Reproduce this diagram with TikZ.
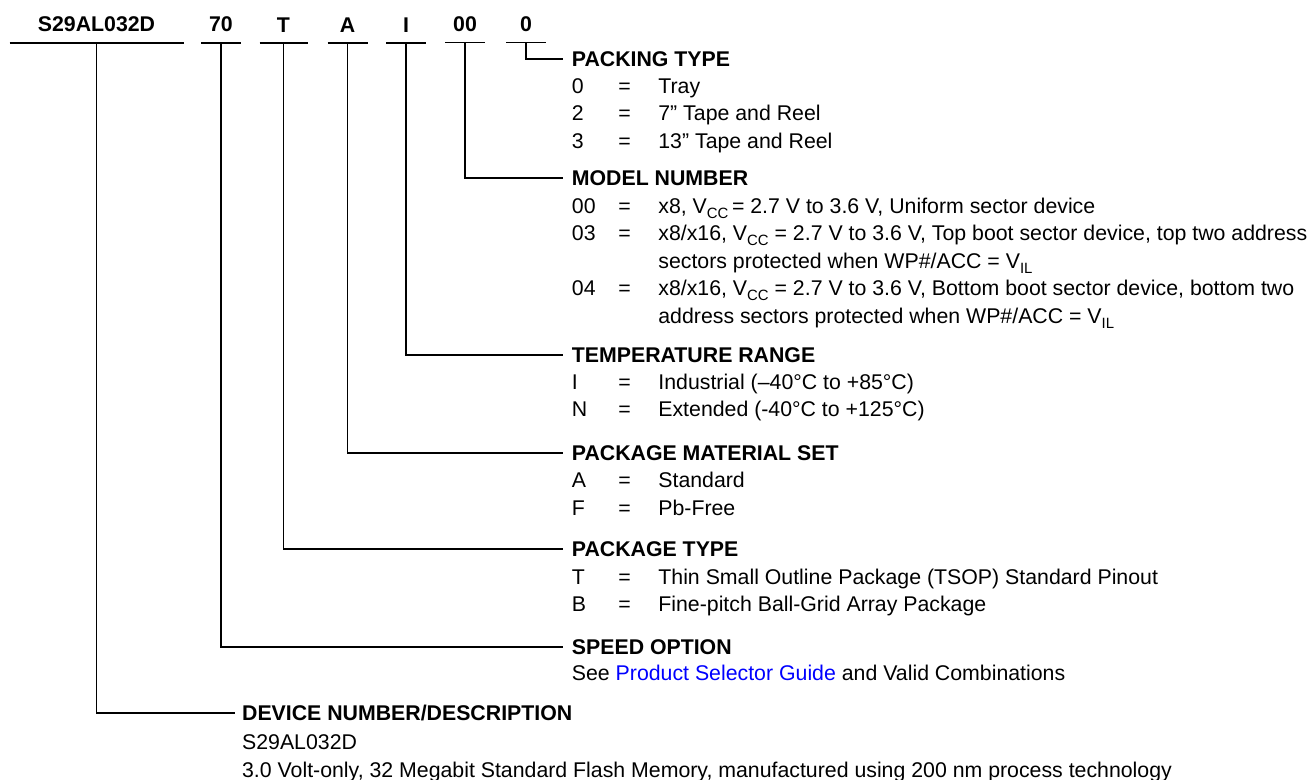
\documentclass[tikz,border=0pt]{standalone}
\usepackage{fontspec}
\setmainfont{Liberation Sans}
\usepackage{array}
\usetikzlibrary{positioning}
\definecolor{linkblue}{RGB}{0,0,255}
\tikzset{
  field/.style={font=\bfseries, inner sep=0pt},
  head/.style={font=\bfseries, anchor=base west, inner sep=0pt, text height=7.16pt, text depth=0pt},
  body/.style={anchor=base west, inner sep=0pt, font=\fontsize{10}{12.9}\selectfont},
  heavy/.style={line width=0.9pt},
  light/.style={line width=0.5pt},
}
\newcommand{\codelist}[1]{\begin{tabular}[t]{@{}p{21.8pt}@{}p{18.8pt}@{}l@{}}#1\end{tabular}}
\newcommand{\lowsub}[1]{\raisebox{-2.4pt}{\scriptsize #1}}

\begin{document}
\begin{tikzpicture}[x=0.4695pt, y=-0.4695pt]
  \useasboundingbox (0,0) rectangle (1309,780);

  % ordering code fields
  \coordinate (udev) at (96.5,42.8);
  \coordinate (uspd) at (221,42.8);
  \coordinate (upkg) at (283.5,42.8);
  \coordinate (umat) at (347.5,42.8);
  \coordinate (utmp) at (406,42.8);
  \coordinate (umod) at (465,42.8);
  \coordinate (upck) at (526,42.8);

  \node[field, above=4.8pt of udev] (fdev) {S29AL032D};
  \node[field, above=4.8pt of uspd] (fspd) {70};
  \node[field, above=4.8pt of upkg] (fpkg) {T};
  \node[field, above=4.8pt of umat] (fmat) {A};
  \node[field, above=4.8pt of utmp] (ftmp) {I};
  \node[field, above=4.8pt of umod] (fmod) {00};
  \node[field, above=4.8pt of upck] (fpck) {0};

  \draw[heavy] (udev) ++(-87,0) -- ++(174,0);
  \draw[heavy] (uspd) ++(-20,0) -- ++(40,0);
  \draw[heavy] (upkg) ++(-24,0) -- ++(48,0);
  \draw[heavy] (umat) ++(-20,0) -- ++(40,0);
  \draw[heavy] (utmp) ++(-20,0) -- ++(40,0);
  \draw[light] (umod) ++(-20,0) -- ++(40,0);
  \draw[light] (upck) ++(-20,0) -- ++(40,0);

  % headings
  \node[head] (hpck) at (571.5,66.6) {PACKING TYPE};
  \node[head] (hmod) at (571.5,185.6) {MODEL NUMBER};
  \node[head] (htmp) at (571.5,362.6) {TEMPERATURE RANGE};
  \node[head] (hmat) at (571.5,460.3) {PACKAGE MATERIAL SET};
  \node[head] (hpkg) at (571.5,556.6) {PACKAGE TYPE};
  \node[head] (hspd) at (571.5,654.3) {SPEED OPTION};
  \node[head] (hdev) at (241.7,720.5) {DEVICE NUMBER/DESCRIPTION};

  % code lists
  \node[body] (bpck) at (571.5,93.3) {\codelist{
    0 & = & Tray\\
    2 & = & 7” Tape and Reel\\
    3 & = & 13” Tape and Reel}};
  \node[body] (bmod) at (571.5,213.3) {\codelist{
    00 & = & x8, V\lowsub{CC}\,= 2.7 V to 3.6 V, Uniform sector device\\
    03 & = & x8/x16, V\lowsub{CC} = 2.7 V to 3.6 V, Top boot sector device, top two address\\
       &   & sectors protected when WP\#/ACC = V\lowsub{IL}\\
    04 & = & x8/x16, V\lowsub{CC} = 2.7 V to 3.6 V, Bottom boot sector device, bottom two\\
       &   & address sectors protected when WP\#/ACC = V\lowsub{IL}}};
  \node[body] (btmp) at (571.5,389.3) {\codelist{
    I & = & Industrial (–40°C to +85°C)\\
    N & = & Extended (-40°C to +125°C)}};
  \node[body] (bmat) at (571.5,487.6) {\codelist{
    A & = & Standard\\
    F & = & Pb-Free}};
  \node[body] (bpkg) at (571.5,584.3) {\codelist{
    T & = & Thin Small Outline Package (TSOP) Standard Pinout\\
    B & = & Fine-pitch Ball-Grid Array Package}};
  \node[body] (bspd) at (571.5,680.6) {See \textcolor{linkblue}{Product Selector Guide} and Valid Combinations};
  \node[body] (bdev) at (241.7,749.9) {\begin{tabular}[t]{@{}l@{}}
    S29AL032D\\
    3.0 Volt-only, 32 Megabit Standard Flash Memory, manufactured using 200 nm process technology
    \end{tabular}};

  % leaders
  \draw[light, shorten >=4pt] (upck) |- (hpck.west);
  \draw[light, shorten >=4pt] (umod) |- (hmod.west);
  \draw[heavy, shorten >=4pt] (utmp) |- (htmp.west);
  \draw[heavy, shorten >=4pt] (umat) |- (hmat.west);
  \draw[heavy, shorten >=4pt] (upkg) |- (hpkg.west);
  \draw[heavy, shorten >=4pt] (uspd) |- (hspd.west);
  \draw[heavy, shorten >=3pt] (udev) |- (hdev.west);
\end{tikzpicture}
\end{document}
